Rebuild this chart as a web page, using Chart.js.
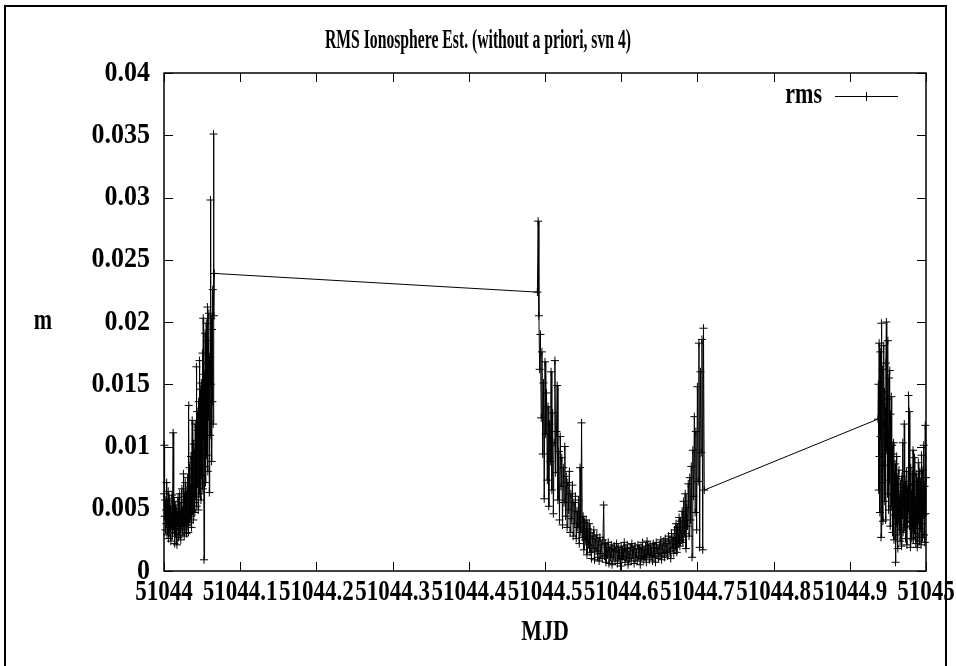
<!DOCTYPE html>
<html>
<head>
<meta charset="utf-8">
<title>RMS Ionosphere Est.</title>
<script src="https://cdn.jsdelivr.net/npm/chart.js@4.4.1/dist/chart.umd.min.js"></script>
<style>
  html, body { margin: 0; padding: 0; background: #fff; }
  #wrap { position: relative; width: 956px; height: 666px; }
</style>
</head>
<body>
<div id="wrap"><canvas id="rmsChart" width="956" height="666"></canvas></div>
<script>
const chartTitle = 'RMS Ionosphere Est. (without a priori, svn 4)';
const xTitle = 'MJD';
const yTitle = 'm';
const seriesLabel = 'rms';

const xTickValues = [51044, 51044.1, 51044.2, 51044.3, 51044.4, 51044.5, 51044.6, 51044.7, 51044.8, 51044.9, 51045];
const xTickLabels = ['51044', '51044.1', '51044.2', '51044.3', '51044.4', '51044.5', '51044.6', '51044.7', '51044.8', '51044.9', '51045'];
const yTickValues = [0, 0.005, 0.01, 0.015, 0.02, 0.025, 0.03, 0.035, 0.04];
const yTickLabels = ['0', '0.005', '0.01', '0.015', '0.02', '0.025', '0.03', '0.035', '0.04'];

// first pass of svn 4
const seg1Mjd = [
  51044.0000, 51044.0005, 51044.0010, 51044.0015, 51044.0020, 51044.0025, 51044.0030, 51044.0035, 51044.0040, 51044.0045,
  51044.0050, 51044.0055, 51044.0060, 51044.0065, 51044.0070, 51044.0075, 51044.0080, 51044.0085, 51044.0090, 51044.0095,
  51044.0100, 51044.0105, 51044.0110, 51044.0115, 51044.0120, 51044.0125, 51044.0130, 51044.0135, 51044.0140, 51044.0145,
  51044.0150, 51044.0155, 51044.0160, 51044.0165, 51044.0170, 51044.0175, 51044.0180, 51044.0185, 51044.0190, 51044.0195,
  51044.0200, 51044.0205, 51044.0210, 51044.0215, 51044.0220, 51044.0225, 51044.0230, 51044.0235, 51044.0240, 51044.0245,
  51044.0250, 51044.0255, 51044.0260, 51044.0265, 51044.0270, 51044.0275, 51044.0280, 51044.0285, 51044.0290, 51044.0295,
  51044.0300, 51044.0305, 51044.0310, 51044.0315, 51044.0320, 51044.0325, 51044.0330, 51044.0335, 51044.0340, 51044.0345,
  51044.0350, 51044.0355, 51044.0360, 51044.0365, 51044.0370, 51044.0375, 51044.0380, 51044.0385, 51044.0390, 51044.0395,
  51044.0400, 51044.0405, 51044.0410, 51044.0415, 51044.0420, 51044.0425, 51044.0430, 51044.0435, 51044.0440, 51044.0445,
  51044.0450, 51044.0455, 51044.0460, 51044.0465, 51044.0470, 51044.0475, 51044.0480, 51044.0485, 51044.0490, 51044.0495,
  51044.0500, 51044.0505, 51044.0510, 51044.0515, 51044.0520, 51044.0525, 51044.0530, 51044.0535, 51044.0540, 51044.0545,
  51044.0550, 51044.0555, 51044.0560, 51044.0565, 51044.0570, 51044.0575, 51044.0580, 51044.0585, 51044.0590, 51044.0595,
  51044.0600, 51044.0605, 51044.0610, 51044.0615, 51044.0620, 51044.0625, 51044.0630, 51044.0635, 51044.0640, 51044.0645,
  51044.0650, 51044.0655, 51044.0660
];
const seg1Rms = [
  0.0062, 0.0101, 0.0044, 0.0057, 0.0033, 0.0049, 0.0038, 0.0071, 0.0029, 0.0054,
  0.0041, 0.0064, 0.0026, 0.0047, 0.0035, 0.0058, 0.0031, 0.0050, 0.0024, 0.0043,
  0.0037, 0.0061, 0.0028, 0.0052, 0.0111, 0.0040, 0.0033, 0.0056, 0.0022, 0.0046,
  0.0030, 0.0053, 0.0036, 0.0048, 0.0021, 0.0044, 0.0039, 0.0059, 0.0027, 0.0050,
  0.0034, 0.0062, 0.0029, 0.0045, 0.0025, 0.0055, 0.0038, 0.0066, 0.0031, 0.0049,
  0.0036, 0.0078, 0.0042, 0.0028, 0.0060, 0.0033, 0.0071, 0.0040, 0.0057, 0.0030,
  0.0064, 0.0037, 0.0075, 0.0046, 0.0031, 0.0133, 0.0052, 0.0083, 0.0039, 0.0068,
  0.0044, 0.0092, 0.0035, 0.0076, 0.0121, 0.0048, 0.0087, 0.0041, 0.0102, 0.0055,
  0.0095, 0.0047, 0.0118, 0.0060, 0.0105, 0.0164, 0.0052, 0.0128, 0.0070, 0.0113,
  0.0049, 0.0136, 0.0081, 0.0169, 0.0062, 0.0146, 0.0098, 0.0057, 0.0151, 0.0077,
  0.0132, 0.0175, 0.0066, 0.0203, 0.0109, 0.0009, 0.0158, 0.0084, 0.0191, 0.0071,
  0.0142, 0.0199, 0.0093, 0.0167, 0.0212, 0.0080, 0.0185, 0.0124, 0.0207, 0.0063,
  0.0172, 0.0109, 0.0298, 0.0150, 0.0203, 0.0088, 0.0194, 0.0136, 0.0226, 0.0118,
  0.0351, 0.0205, 0.0239
];

// second pass
const seg2Mjd = [
  51044.490, 51044.491, 51044.492, 51044.493, 51044.494, 51044.495, 51044.496, 51044.497, 51044.498, 51044.499,
  51044.500, 51044.501, 51044.502, 51044.503, 51044.504, 51044.505, 51044.506, 51044.507, 51044.508, 51044.509,
  51044.510, 51044.511, 51044.512, 51044.513, 51044.514, 51044.515, 51044.516, 51044.517, 51044.518, 51044.519,
  51044.520, 51044.521, 51044.522, 51044.523, 51044.524, 51044.525, 51044.526, 51044.527, 51044.528, 51044.529,
  51044.530, 51044.531, 51044.532, 51044.533, 51044.534, 51044.535, 51044.536, 51044.537, 51044.538, 51044.539,
  51044.540, 51044.541, 51044.542, 51044.543, 51044.544, 51044.545, 51044.546, 51044.547, 51044.548, 51044.549,
  51044.550, 51044.551, 51044.552, 51044.553, 51044.554, 51044.555, 51044.556, 51044.557, 51044.558, 51044.559,
  51044.560, 51044.561, 51044.562, 51044.563, 51044.564, 51044.565, 51044.566, 51044.567, 51044.568, 51044.569,
  51044.570, 51044.571, 51044.572, 51044.573, 51044.574, 51044.575, 51044.576, 51044.577, 51044.578, 51044.579,
  51044.580, 51044.581, 51044.582, 51044.583, 51044.584, 51044.585, 51044.586, 51044.587, 51044.588, 51044.589,
  51044.590, 51044.591, 51044.592, 51044.593, 51044.594, 51044.595, 51044.596, 51044.597, 51044.598, 51044.599,
  51044.600, 51044.601, 51044.602, 51044.603, 51044.604, 51044.605, 51044.606, 51044.607, 51044.608, 51044.609,
  51044.610, 51044.611, 51044.612, 51044.613, 51044.614, 51044.615, 51044.616, 51044.617, 51044.618, 51044.619,
  51044.620, 51044.621, 51044.622, 51044.623, 51044.624, 51044.625, 51044.626, 51044.627, 51044.628, 51044.629,
  51044.630, 51044.631, 51044.632, 51044.633, 51044.634, 51044.635, 51044.636, 51044.637, 51044.638, 51044.639,
  51044.640, 51044.641, 51044.642, 51044.643, 51044.644, 51044.645, 51044.646, 51044.647, 51044.648, 51044.649,
  51044.650, 51044.651, 51044.652, 51044.653, 51044.654, 51044.655, 51044.656, 51044.657, 51044.658, 51044.659,
  51044.660, 51044.661, 51044.662, 51044.663, 51044.664, 51044.665, 51044.666, 51044.667, 51044.668, 51044.669,
  51044.670, 51044.671, 51044.672, 51044.673, 51044.674, 51044.675, 51044.676, 51044.677, 51044.678, 51044.679,
  51044.680, 51044.681, 51044.682, 51044.683, 51044.684, 51044.685, 51044.686, 51044.687, 51044.688, 51044.689,
  51044.690, 51044.691, 51044.692, 51044.693, 51044.694, 51044.695, 51044.696, 51044.697, 51044.698, 51044.699,
  51044.700, 51044.701, 51044.702, 51044.703, 51044.704, 51044.705, 51044.706, 51044.707, 51044.708, 51044.709
];
const seg2Rms = [
  0.0224, 0.0281, 0.0205, 0.0162, 0.0190, 0.0123, 0.0176, 0.0094, 0.0151, 0.0058,
  0.0168, 0.0110, 0.0143, 0.0073, 0.0132, 0.0052, 0.0118, 0.0088, 0.0160, 0.0065,
  0.0127, 0.0046, 0.0103, 0.0169, 0.0079, 0.0112, 0.0149, 0.0057, 0.0096, 0.0041,
  0.0108, 0.0068, 0.0091, 0.0037, 0.0083, 0.0055, 0.0100, 0.0044, 0.0076, 0.0035,
  0.0071, 0.0049, 0.0080, 0.0031, 0.0062, 0.0042, 0.0069, 0.0028, 0.0055, 0.0038,
  0.0060, 0.0026, 0.0048, 0.0035, 0.0057, 0.0022, 0.0083, 0.0031, 0.0119, 0.0027,
  0.0044, 0.0017, 0.0039, 0.0025, 0.0041, 0.0013, 0.0034, 0.0021, 0.0038, 0.0015,
  0.0031, 0.0010, 0.0028, 0.0018, 0.0033, 0.0009, 0.0026, 0.0016, 0.0029, 0.0011,
  0.0024, 0.0008, 0.0027, 0.0014, 0.0021, 0.0010, 0.0025, 0.0053, 0.0012, 0.0022,
  0.0007, 0.0019, 0.0013, 0.0023, 0.0006, 0.0017, 0.0011, 0.0021, 0.0005, 0.0018,
  0.0012, 0.0020, 0.0008, 0.0016, 0.0022, 0.0006, 0.0019, 0.0010, 0.0015, 0.0004,
  0.0020, 0.0009, 0.0017, 0.0012, 0.0023, 0.0007, 0.0018, 0.0011, 0.0021, 0.0005,
  0.0016, 0.0010, 0.0019, 0.0008, 0.0022, 0.0013, 0.0017, 0.0006, 0.0020, 0.0011,
  0.0015, 0.0008, 0.0021, 0.0012, 0.0018, 0.0005, 0.0019, 0.0010, 0.0023, 0.0009,
  0.0017, 0.0011, 0.0020, 0.0007, 0.0024, 0.0013, 0.0018, 0.0009, 0.0021, 0.0012,
  0.0016, 0.0008, 0.0022, 0.0011, 0.0019, 0.0007, 0.0023, 0.0014, 0.0018, 0.0010,
  0.0021, 0.0012, 0.0025, 0.0009, 0.0020, 0.0014, 0.0024, 0.0011, 0.0026, 0.0015,
  0.0022, 0.0012, 0.0028, 0.0016, 0.0025, 0.0010, 0.0030, 0.0018, 0.0027, 0.0014,
  0.0033, 0.0019, 0.0038, 0.0015, 0.0035, 0.0022, 0.0043, 0.0020, 0.0040, 0.0025,
  0.0048, 0.0023, 0.0056, 0.0030, 0.0062, 0.0018, 0.0051, 0.0036, 0.0070, 0.0028,
  0.0075, 0.0041, 0.0084, 0.0011, 0.0097, 0.0060, 0.0124, 0.0047, 0.0112, 0.0033,
  0.0148, 0.0072, 0.0183, 0.0019, 0.0160, 0.0095, 0.0186, 0.0017, 0.0195, 0.0065
];

// third pass
const seg3Mjd = [
  51044.9370, 51044.9375, 51044.9380, 51044.9385, 51044.9390, 51044.9395, 51044.9400, 51044.9405, 51044.9410, 51044.9415,
  51044.9420, 51044.9425, 51044.9430, 51044.9435, 51044.9440, 51044.9445, 51044.9450, 51044.9455, 51044.9460, 51044.9465,
  51044.9470, 51044.9475, 51044.9480, 51044.9485, 51044.9490, 51044.9495, 51044.9500, 51044.9505, 51044.9510, 51044.9515,
  51044.9520, 51044.9525, 51044.9530, 51044.9535, 51044.9540, 51044.9545, 51044.9550, 51044.9555, 51044.9560, 51044.9565,
  51044.9570, 51044.9575, 51044.9580, 51044.9585, 51044.9590, 51044.9595, 51044.9600, 51044.9605, 51044.9610, 51044.9615,
  51044.9620, 51044.9625, 51044.9630, 51044.9635, 51044.9640, 51044.9645, 51044.9650, 51044.9655, 51044.9660, 51044.9665,
  51044.9670, 51044.9675, 51044.9680, 51044.9685, 51044.9690, 51044.9695, 51044.9700, 51044.9705, 51044.9710, 51044.9715,
  51044.9720, 51044.9725, 51044.9730, 51044.9735, 51044.9740, 51044.9745, 51044.9750, 51044.9755, 51044.9760, 51044.9765,
  51044.9770, 51044.9775, 51044.9780, 51044.9785, 51044.9790, 51044.9795, 51044.9800, 51044.9805, 51044.9810, 51044.9815,
  51044.9820, 51044.9825, 51044.9830, 51044.9835, 51044.9840, 51044.9845, 51044.9850, 51044.9855, 51044.9860, 51044.9865,
  51044.9870, 51044.9875, 51044.9880, 51044.9885, 51044.9890, 51044.9895, 51044.9900, 51044.9905, 51044.9910, 51044.9915,
  51044.9920, 51044.9925, 51044.9930, 51044.9935, 51044.9940, 51044.9945, 51044.9950, 51044.9955, 51044.9960, 51044.9965,
  51044.9970, 51044.9975, 51044.9980, 51044.9985, 51044.9990, 51044.9995, 51045.0000
];
const seg3Rms = [
  0.0122, 0.0150, 0.0065, 0.0183, 0.0092, 0.0047, 0.0176, 0.0108, 0.0027, 0.0199,
  0.0134, 0.0071, 0.0162, 0.0040, 0.0118, 0.0181, 0.0085, 0.0144, 0.0056, 0.0129,
  0.0041, 0.0167, 0.0200, 0.0097, 0.0138, 0.0062, 0.0185, 0.0110, 0.0049, 0.0155,
  0.0073, 0.0161, 0.0036, 0.0126, 0.0088, 0.0140, 0.0052, 0.0101, 0.0031, 0.0094,
  0.0061, 0.0103, 0.0025, 0.0078, 0.0045, 0.0086, 0.0007, 0.0069, 0.0038, 0.0092,
  0.0029, 0.0074, 0.0018, 0.0064, 0.0042, 0.0081, 0.0033, 0.0058, 0.0024, 0.0070,
  0.0037, 0.0062, 0.0020, 0.0076, 0.0045, 0.0103, 0.0031, 0.0067, 0.0052, 0.0118,
  0.0035, 0.0072, 0.0026, 0.0059, 0.0043, 0.0080, 0.0021, 0.0066, 0.0039, 0.0055,
  0.0141, 0.0048, 0.0128, 0.0036, 0.0070, 0.0019, 0.0083, 0.0040, 0.0062, 0.0026,
  0.0078, 0.0034, 0.0097, 0.0025, 0.0069, 0.0044, 0.0091, 0.0030, 0.0057, 0.0022,
  0.0078, 0.0038, 0.0065, 0.0019, 0.0072, 0.0027, 0.0087, 0.0041, 0.0060, 0.0024,
  0.0080, 0.0034, 0.0072, 0.0021, 0.0093, 0.0038, 0.0064, 0.0027, 0.0081, 0.0045,
  0.0101, 0.0029, 0.0068, 0.0023, 0.0117, 0.0046, 0.0075
];

const TICK_LEN = 9;
const FONT = '"Liberation Serif", "Times New Roman", serif';

// gnuplot text is tall and narrow, so stretch it vertically
function tallText(ctx, text, x, y, size, align, stretch) {
    ctx.save();
    ctx.translate(x, y);
    ctx.scale(1, stretch);
    ctx.font = `bold ${size}px ${FONT}`;
    ctx.textAlign = align;
    ctx.textBaseline = 'middle';
    ctx.fillStyle = '#000';
    ctx.fillText(text, 0, 0);
    ctx.restore();
}

const gnuplotFrame = {
    id: 'gnuplotFrame',
    beforeDraw(chart) {
        const { ctx } = chart;
        ctx.save();
        ctx.strokeStyle = '#000';
        ctx.lineWidth = 2;
        ctx.beginPath();
        ctx.moveTo(5, 680);
        ctx.lineTo(5, 6);
        ctx.lineTo(946, 6);
        ctx.lineTo(946, 680);
        ctx.stroke();
        ctx.restore();
    },
    beforeDatasetsDraw(chart) {
        const { ctx, chartArea: a, scales: { x, y } } = chart;
        ctx.save();
        ctx.strokeStyle = '#000';
        ctx.lineWidth = 1;
        ctx.beginPath();
        x.ticks.forEach((t) => {
            const px = Math.round(x.getPixelForValue(t.value)) + 0.5;
            ctx.moveTo(px, a.bottom); ctx.lineTo(px, a.bottom - TICK_LEN);
            ctx.moveTo(px, a.top); ctx.lineTo(px, a.top + TICK_LEN);
        });
        y.ticks.forEach((t) => {
            const py = Math.round(y.getPixelForValue(t.value)) + 0.5;
            ctx.moveTo(a.left, py); ctx.lineTo(a.left + TICK_LEN, py);
            ctx.moveTo(a.right, py); ctx.lineTo(a.right - TICK_LEN, py);
        });
        ctx.stroke();
        ctx.lineWidth = 1.5;
        ctx.strokeRect(a.left, a.top, a.right - a.left, a.bottom - a.top);
        ctx.restore();
    },
    afterDraw(chart) {
        const { ctx, chartArea: a, scales: { x, y } } = chart;
        const mid = (a.left + a.right) / 2;
        tallText(ctx, chartTitle, chart.width / 2, 41, 15.7, 'center', 1.7);
        x.ticks.forEach((t, i) => {
            tallText(ctx, xTickLabels[i], x.getPixelForValue(t.value), a.bottom + 21, 23, 'center', 1.3);
        });
        y.ticks.forEach((t, i) => {
            tallText(ctx, yTickLabels[i], a.left - 14, y.getPixelForValue(t.value), 26, 'right', 1.15);
        });
        tallText(ctx, xTitle, mid, 633, 22, 'center', 1.3);
        tallText(ctx, yTitle, 43, (a.top + a.bottom) / 2, 22, 'center', 1.3);

        // key, top right inside the plot
        const ly = a.top + 23;
        tallText(ctx, chart.data.datasets[0].label, 822, ly, 22, 'right', 1.3);
        ctx.save();
        ctx.strokeStyle = '#000';
        ctx.lineWidth = 1;
        ctx.beginPath();
        ctx.moveTo(835, ly + 0.5); ctx.lineTo(898, ly + 0.5);
        ctx.moveTo(866.5, ly - 4); ctx.lineTo(866.5, ly + 5);
        ctx.stroke();
        ctx.restore();
    },
};

const points = [];
[[seg1Mjd, seg1Rms], [seg2Mjd, seg2Rms], [seg3Mjd, seg3Rms]].forEach(([xs, ys]) => {
    xs.forEach((v, i) => points.push({ x: v, y: ys[i] }));
});

new Chart(document.getElementById('rmsChart'), {
    type: 'line',
    data: {
        datasets: [{
            label: seriesLabel,
            data: points,
            borderColor: '#000',
            borderWidth: 1,
            pointStyle: 'cross',
            pointRadius: 4,
            pointBorderWidth: 1,
            pointBorderColor: '#000',
            pointBackgroundColor: '#000',
            tension: 0,
            clip: 6,
        }],
    },
    options: {
        responsive: false,
        devicePixelRatio: 1,
        animation: false,
        events: [],
        layout: { padding: { top: 73, right: 30, left: 0, bottom: 0 } },
        plugins: { legend: { display: false }, title: { display: false }, tooltip: { enabled: false } },
        scales: {
            x: {
                type: 'linear',
                min: 51044,
                max: 51045,
                grid: { display: false },
                border: { display: false },
                ticks: { display: false },
                afterBuildTicks: (scale) => { scale.ticks = xTickValues.map((v) => ({ value: v })); },
                afterFit: (scale) => { scale.height = 95; },
            },
            y: {
                type: 'linear',
                min: 0,
                max: 0.04,
                grid: { display: false },
                border: { display: false },
                ticks: { display: false },
                afterBuildTicks: (scale) => { scale.ticks = yTickValues.map((v) => ({ value: v })); },
                afterFit: (scale) => { scale.width = 164; },
            },
        },
    },
    plugins: [gnuplotFrame],
});
</script>
</body>
</html>
